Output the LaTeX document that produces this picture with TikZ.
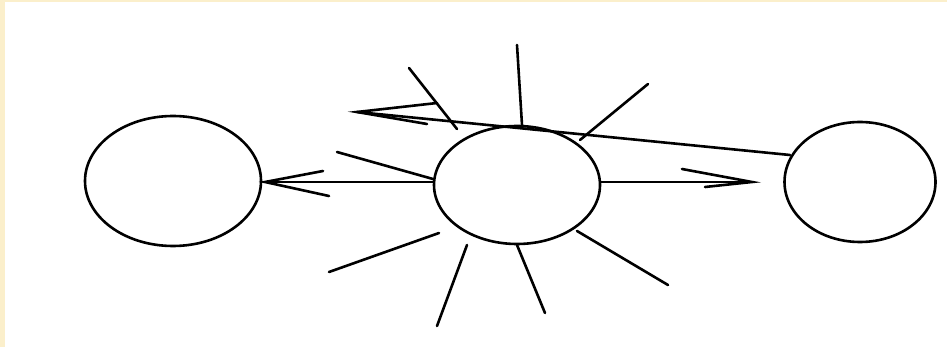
\documentclass[tikz,border=0pt]{standalone}
\definecolor{framey}{HTML}{FBEFCB}
\tikzset{
  blob/.style={draw, ellipse, line width=2.6pt, inner sep=0pt},
  stroke/.style={line width=2.6pt, line cap=round},
}
\usetikzlibrary{shapes.geometric}
\begin{document}
\begin{tikzpicture}[x=1pt,y=-1pt]
\useasboundingbox (0,0) rectangle (947,347);
\fill[framey] (0,0) rectangle (947,2.5);
\fill[framey] (0,0) rectangle (4.5,347);
% ellipses
\node[blob, minimum width=176pt, minimum height=130pt] (L) at (173,181) {};
\node[blob, minimum width=166pt, minimum height=118pt] (C) at (517,185) {};
\node[blob, minimum width=151pt, minimum height=120pt] (R) at (860,182) {};
% left arrow
\coordinate (lt) at (265,182);
\coordinate (lb1) at (323,171);
\coordinate (lb2) at (329,196);
\draw[stroke] (C.west |- lt) -- (lt);
\draw[stroke] (lb1) -- (lt) -- (lb2);
% right arrow
\coordinate (rt) at (752,182);
\coordinate (rb1) at (682,169);
\coordinate (rb2) at (705,187);
\draw[stroke] (C.east |- rt) -- (rt);
\draw[stroke] (rb1) -- (rt) -- (rb2);
% long arrow from right ellipse
\coordinate (rs) at (790,155);
\coordinate (tt) at (357,112);
\coordinate (tb1) at (437,103);
\coordinate (tb2) at (427,124);
\draw[stroke] (rs) -- (tt);
\draw[stroke] (tb1) -- (tt) -- (tb2);
% rays
\coordinate (r1a) at (522,125); \coordinate (r1b) at (517,45);
\coordinate (r2a) at (457,129); \coordinate (r2b) at (409,68);
\coordinate (r3a) at (580,140); \coordinate (r3b) at (648,84);
\coordinate (r4a) at (433,179); \coordinate (r4b) at (337,152);
\coordinate (r5a) at (439,233); \coordinate (r5b) at (329,272);
\coordinate (r6a) at (467,245); \coordinate (r6b) at (437,326);
\coordinate (r7a) at (517,245); \coordinate (r7b) at (545,313);
\coordinate (r8a) at (577,231); \coordinate (r8b) at (668,285);
\foreach \i in {1,...,8} \draw[stroke] (r\i a) -- (r\i b);
\end{tikzpicture}
\end{document}
